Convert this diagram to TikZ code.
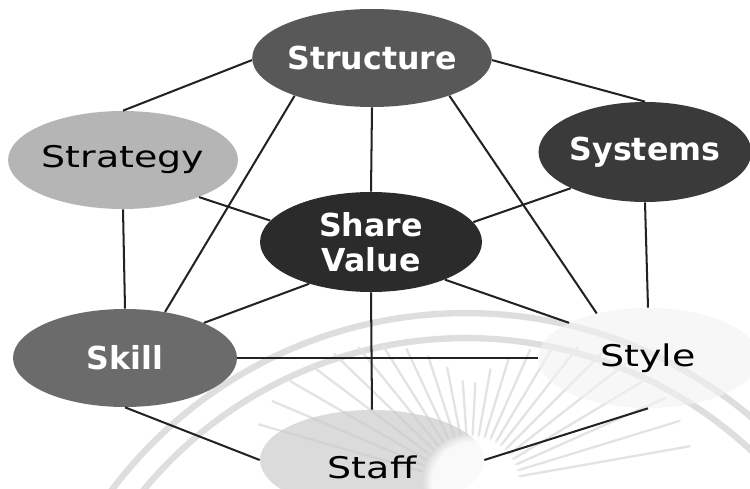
\documentclass[tikz,border=0pt]{standalone}
\usepackage{fontspec}
\setmainfont{DejaVu Sans}
\newfontfamily\widefont{DejaVu Sans}[FakeStretch=1.27]
\usetikzlibrary{shapes.geometric,fadings}
\definecolor{lineclr}{HTML}{222222}
\definecolor{cstructure}{HTML}{585858}
\definecolor{cstrategy}{HTML}{B5B5B5}
\definecolor{csystems}{HTML}{3A3A3A}
\definecolor{cshared}{HTML}{2B2B2B}
\definecolor{cskill}{HTML}{6B6B6B}
\definecolor{cstyle}{HTML}{F2F2F2}
\definecolor{cstaff}{HTML}{CCCCCC}
\begin{document}
\begin{tikzpicture}[x=0.02cm,y=-0.02cm,
  oval/.style={ellipse, inner sep=0pt, minimum width=4.48cm, minimum height=1.96cm},
  darktxt/.style={text=white, font=\fontsize{18}{20}\selectfont\bfseries, align=center},
  lighttxt/.style={text=black, font=\widefont\fontsize{17}{20}\selectfont},
  link/.style={draw=lineclr, line width=1.15pt},
  wmline/.style={draw=black!13, line width=3.6pt},
  wmray/.style={draw=black!11, line width=1.3pt, line cap=round}]
\useasboundingbox[fill=white] (0,0) rectangle (750,489);

% faint emblem in the background
\begin{scope}
  \clip (0,0) rectangle (750,489);
  \draw[wmline] (466,756) circle[radius=8.86cm];
  \draw[wmline] (466,756) circle[radius=8.36cm];
  \foreach \a in {10,17,...,170}{
    \pgfmathsetmacro\ro{95+130*abs(cos(\a))}
    \pgfmathsetmacro\xa{470+50*cos(\a)}
    \pgfmathsetmacro\ya{485-50*sin(\a)}
    \pgfmathsetmacro\xb{470+\ro*cos(\a)}
    \pgfmathsetmacro\yb{485-\ro*sin(\a)}
    \draw[wmray] (\xa,\ya) -- (\xb,\yb);
  }
\end{scope}

% the seven elements
\node[oval, fill=cstructure, darktxt] (structure) at (372,58) {Structure};
\node[oval, fill=cstrategy, lighttxt] (strategy) at (123,160) {Strategy};
\node[oval, fill=csystems, darktxt, minimum width=4.2cm, minimum height=2cm] (systems) at (645,152) {Systems};
\node[oval, fill=cshared, darktxt, minimum width=4.44cm, minimum height=2cm] (shared) at (371,242) {Share\\Value};
\node[oval, fill=cskill, darktxt] (skill) at (125,358) {Skill};
\node[oval, fill=cstyle, fill opacity=0.6, text opacity=1, lighttxt, minimum width=4.4cm, minimum height=2cm] (style) at (648,358) {Style};
\node[oval, fill=cstaff, fill opacity=0.7, text opacity=1, lighttxt, minimum height=2cm, text height=0.76cm, text depth=0pt] (staff) at (372,460) {Staff};

% soft bright spot at the centre of the emblem
\fill[white, fill opacity=0.85, path fading=circle with fuzzy edge 20 percent] (472,482) circle[radius=1.0cm];

% links between the elements
\draw[link] (structure.181) -- (strategy.90);
\draw[link] (structure.206) -- (skill.49);
\draw[link] (structure.270) -- (shared.90);
\draw[link] (structure.-1) -- (systems.90);
\draw[link] (structure.-26) -- (style.139);
\draw[link] (strategy.-26) -- (shared.168);
\draw[link] (strategy.270) -- (skill.90);
\draw[link] (systems.206) -- (shared.11);
\draw[link] (systems.270) -- (style.90);
\draw[link] (shared.214) -- (skill.24);
\draw[link] (shared.-27) -- (style.156);
\draw[link] (shared.270) -- (staff.90);
\draw[link] (skill.0) -- (style.180);
\draw[link] (skill.270) -- (staff.180);
\draw[link] (style.270) -- (staff.0);
\end{tikzpicture}
\end{document}
